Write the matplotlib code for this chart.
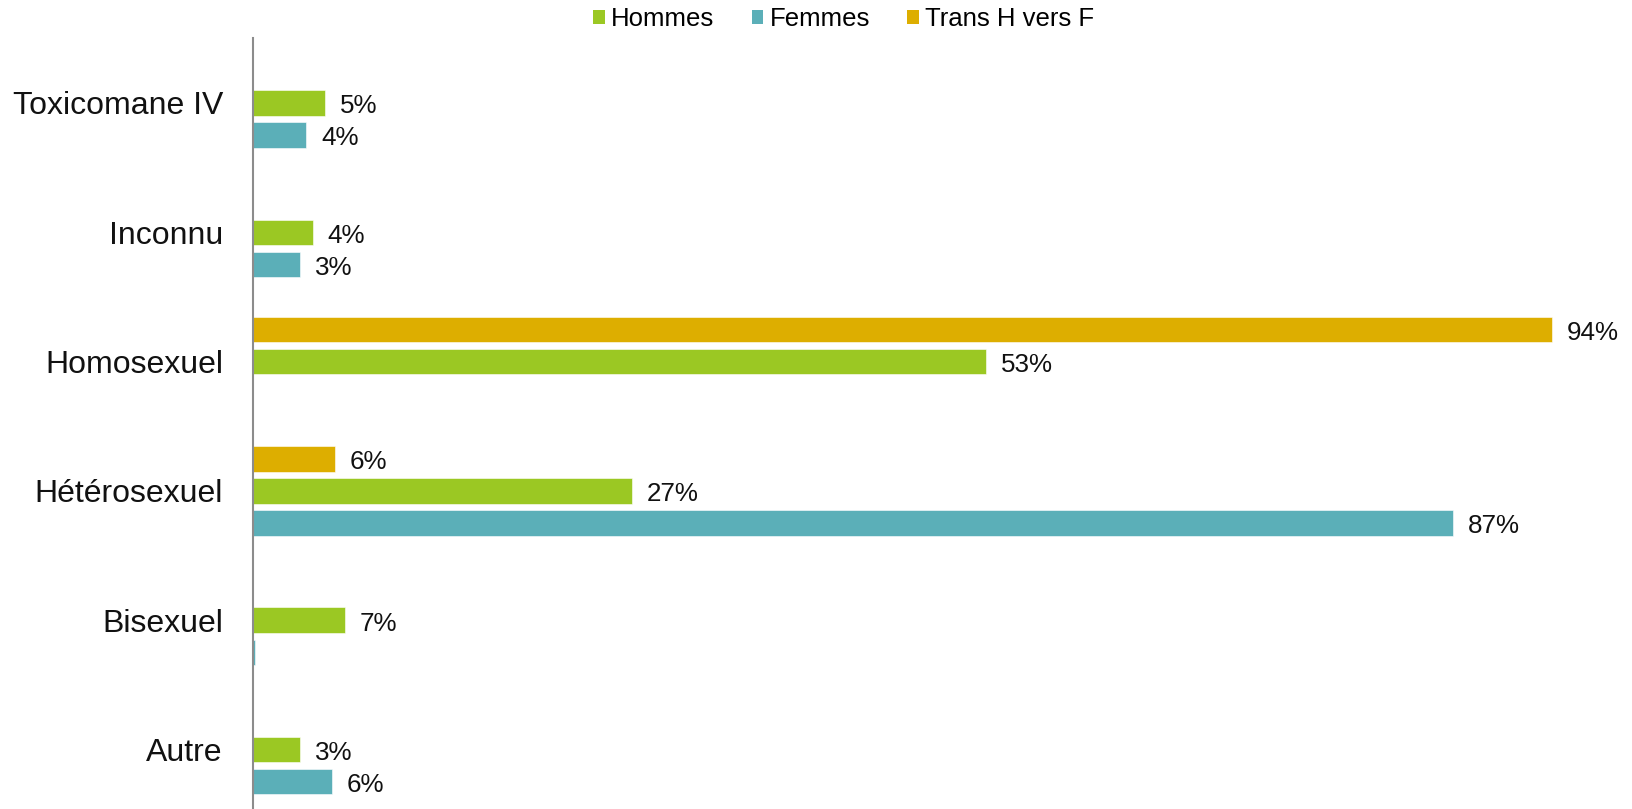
import numpy as np
import matplotlib
matplotlib.use("Agg")
import matplotlib.pyplot as plt
from matplotlib.patches import Patch

plt.rcParams['font.family'] = ['Liberation Sans', 'DejaVu Sans']

categories = ["Toxicomane IV", "Inconnu", "Homosexuel", "Hétérosexuel", "Bisexuel", "Autre"]
series_names = ["Hommes", "Femmes", "Trans H vers F"]
hommes = [5.2, 4.3, 53.1, 27.4, 6.6, 3.4]
femmes = [3.8, 3.4, np.nan, 86.9, 0.12, 5.7]
trans = [np.nan, np.nan, 94.1, 5.9, np.nan, np.nan]

colors = {"Hommes": "#9BC823", "Femmes": "#5BAFB8", "Trans H vers F": "#DDAE00"}

fig = plt.figure(figsize=(16.32, 8.09), dpi=100)
ax = fig.add_axes([0.1553, -0.0064, 0.8456, 0.9591])

y = np.arange(len(categories))
pitch = 0.248
h = 0.197
offsets = {"Trans H vers F": -pitch, "Hommes": 0.0, "Femmes": pitch}
data = {"Hommes": hommes, "Femmes": femmes, "Trans H vers F": trans}

for name in ["Trans H vers F", "Hommes", "Femmes"]:
    vals = np.array(data[name], dtype=float)
    ys = y + offsets[name]
    mask = ~np.isnan(vals)
    ax.barh(ys[mask], vals[mask], height=h, color=colors[name],
            edgecolor="white", linewidth=0.4)
    for yy, v in zip(ys[mask], vals[mask]):
        if v >= 0.5:
            ax.annotate(f"{v:.0f}%", xy=(v, yy), xytext=(10.8, -2.5),
                        textcoords="offset points", ha="left", va="center",
                        fontsize=18.7, color="#111111")

ax.set_xlim(0, 100)
ax.set_ylim(5.5, -0.5)
ax.set_yticks(y)
ax.set_yticklabels(categories, fontsize=23, color="#111111")
ax.tick_params(axis="y", length=0, pad=22)
ax.set_xticks([])
for s in ["top", "right", "bottom"]:
    ax.spines[s].set_visible(False)
ax.spines["left"].set_color("#8C8C8C")
ax.spines["left"].set_linewidth(1.5)

handles = [Patch(facecolor=colors[n], edgecolor="none") for n in series_names]
fig.legend(handles, series_names, loc="center", bbox_to_anchor=(0.5170, 0.976),
           ncol=3, frameon=False, fontsize=18.5, handlelength=0.45, handleheight=0.45,
           handletextpad=0.25, columnspacing=1.45, borderpad=0, borderaxespad=0)

fig.savefig("out.png", dpi=100)
